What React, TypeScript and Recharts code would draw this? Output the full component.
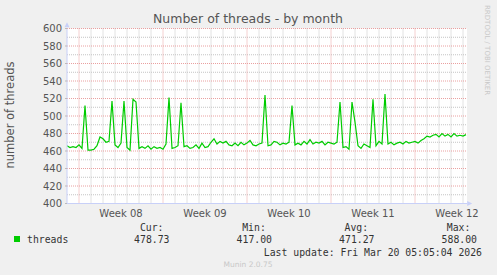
import React from 'react';
import {
  LineChart,
  Line,
  XAxis,
  YAxis,
  CartesianGrid,
  ReferenceDot,
  ReferenceLine,
} from 'recharts';

// six-hour samples, first one at the left edge of the graph
const STEP_DAYS = 0.25;
const threads = [
  466, 464, 465, 464, 467, 463, 512, 461, 461, 462,
  466, 476, 474, 470, 471, 517, 467, 464, 469, 517,
  464, 461, 519, 516, 463, 465, 463, 466, 462, 465,
  463, 464, 462, 468, 521, 463, 464, 466, 515, 465,
  466, 463, 464, 467, 463, 469, 464, 465, 470, 474,
  468, 471, 469, 471, 467, 466, 469, 466, 470, 467,
  469, 472, 467, 466, 468, 469, 524, 466, 467, 471,
  470, 467, 469, 468, 470, 512, 467, 469, 467, 471,
  468, 473, 468, 470, 469, 471, 467, 470, 469, 468,
  470, 516, 464, 465, 462, 516, 493, 466, 463, 468,
  466, 464, 519, 466, 471, 468, 525, 468, 470, 467,
  469, 470, 468, 471, 469, 470, 471, 469, 472, 474,
  477, 476, 478, 479, 476, 480, 477, 479, 476, 480,
  477, 478, 477, 478.73,
];

const weekLabelDays = [4.5, 11.5, 18.5, 25.5, 32.5];
const weekLabels = ['Week 08', 'Week 09', 'Week 10', 'Week 11', 'Week 12'];
const weekStartDays = [1, 8, 15, 22, 29];
const dayLines = Array.from({ length: 34 }, (_, i) => i).filter((d) => !weekStartDays.includes(d) && d > 0);
const yTicks = [400, 420, 440, 460, 480, 500, 520, 540, 560, 580, 600];
const yMinor = [410, 430, 450, 470, 490, 510, 530, 550, 570, 590];

const stats = [
  { label: 'Cur:', value: '478.73' },
  { label: 'Min:', value: '417.00' },
  { label: 'Avg:', value: '471.27' },
  { label: 'Max:', value: '588.00' },
];

const data = threads.map((v, i) => ({ day: i * STEP_DAYS, threads: v }));
const weekLabelMap: Record<number, string> = {};
weekLabelDays.forEach((d, i) => (weekLabelMap[d] = weekLabels[i]));

const AXIS = '#c8d0f8';
const TEXT = '#555';
const MINOR = '#c4c4c4';
const MAJOR = '#eaa0a0';
const MONO = '"DejaVu Sans Mono", monospace';
const SANS = '"DejaVu Sans", sans-serif';

const upArrow = (p: any) => (
  <polygon
    points={`${p.cx - 2.5},${p.cy + 3} ${p.cx + 2.5},${p.cy + 3} ${p.cx},${p.cy - 2}`}
    fill={AXIS}
  />
);
const rightArrow = (p: any) => (
  <polygon
    points={`${p.cx - 3},${p.cy - 2.5} ${p.cx - 3},${p.cy + 2.5} ${p.cx + 2},${p.cy}`}
    fill={AXIS}
  />
);

const App = () => {
  return (
    <div style={{ position: 'absolute', left: 0, top: 0, width: 497, height: 275, background: '#f0f0f0' }}>
      <LineChart
        width={497}
        height={275}
        data={data}
        margin={{ top: 28.5, right: 30, left: 0, bottom: 51.5 }}
      >
        <CartesianGrid fill="#fff" horizontal={false} vertical={false} />
        {dayLines.map((d) => (
          <ReferenceLine key={'d' + d} x={d} stroke={MINOR} strokeDasharray="1 1" />
        ))}
        {yMinor.map((v) => (
          <ReferenceLine key={'m' + v} y={v} stroke={MINOR} strokeDasharray="1 1" />
        ))}
        {weekStartDays.map((d) => (
          <ReferenceLine key={'w' + d} x={d} stroke={MAJOR} strokeDasharray="1 1" />
        ))}
        {yTicks.slice(1).map((v) => (
          <ReferenceLine key={'y' + v} y={v} stroke={MAJOR} strokeDasharray="1 1" />
        ))}
        <XAxis
          dataKey="day"
          type="number"
          domain={[0, 400 / 12]}
          ticks={weekLabelDays}
          tickFormatter={(d: number) => weekLabelMap[d] ?? ''}
          tickLine={false}
          tickSize={0}
          tickMargin={6}
          height={20}
          axisLine={{ stroke: AXIS }}
          tick={{ fill: TEXT, fontSize: 10, fontFamily: SANS }}
          allowDataOverflow
        />
        <XAxis
          xAxisId="weeks"
          dataKey="day"
          type="number"
          domain={[0, 400 / 12]}
          ticks={weekStartDays}
          tick={false}
          tickSize={2}
          tickLine={{ stroke: '#e08080' }}
          axisLine={false}
          height={0}
        />
        <YAxis
          domain={[400, 600]}
          ticks={yTicks}
          width={67}
          tickSize={2}
          tickMargin={3}
          tickLine={{ stroke: '#bbb' }}
          axisLine={{ stroke: AXIS }}
          tick={{ fill: TEXT, fontSize: 10, fontFamily: SANS }}
          allowDataOverflow
        />
        <Line
          type="linear"
          dataKey="threads"
          stroke="#00cc00"
          strokeWidth={1.2}
          dot={false}
          isAnimationActive={false}
        />
        <ReferenceDot x={0} y={605} ifOverflow="visible" shape={upArrow} />
        <ReferenceDot x={33.6} y={400} ifOverflow="visible" shape={rightArrow} />
      </LineChart>
      <svg
        width={497}
        height={275}
        style={{ position: 'absolute', left: 0, top: 0, pointerEvents: 'none' }}
      >
        <text x={248} y={23} textAnchor="middle" fontFamily={SANS} fontSize={12.5} fill={TEXT}>
          Number of threads - by month
        </text>
        <text
          transform="translate(14,115) rotate(-90)"
          textAnchor="middle"
          fontFamily={SANS}
          fontSize={11.5}
          fill={TEXT}
        >
          number of threads
        </text>
        <text
          transform="translate(485,5) rotate(90)"
          fontFamily={SANS}
          fontSize={7}
          fill="#c8c8c8"
        >
          RRDTOOL / TOBI OETIKER
        </text>
        <rect x={14} y={236} width={6} height={6} fill="#00cc00" />
        <text x={27} y={243} fontFamily={MONO} fontSize={9.8} fill="#333">
          threads
        </text>
        {stats.map((s, i) => (
          <g key={s.label}>
            <text x={163.5 + i * 102.3} y={231} textAnchor="end" fontFamily={MONO} fontSize={9.8} fill="#333">
              {s.label}
            </text>
            <text x={169.5 + i * 102.5} y={243} textAnchor="end" fontFamily={MONO} fontSize={9.8} fill="#333">
              {s.value}
            </text>
          </g>
        ))}
        <text x={482} y={255.5} textAnchor="end" fontFamily={MONO} fontSize={9.8} fill="#333">
          Last update: Fri Mar 20 05:05:04 2026
        </text>
        <text x={248} y={267} textAnchor="middle" fontFamily={SANS} fontSize={7.5} fill="#c8c8c8">
          Munin 2.0.75
        </text>
      </svg>
    </div>
  );
};

export default App;
